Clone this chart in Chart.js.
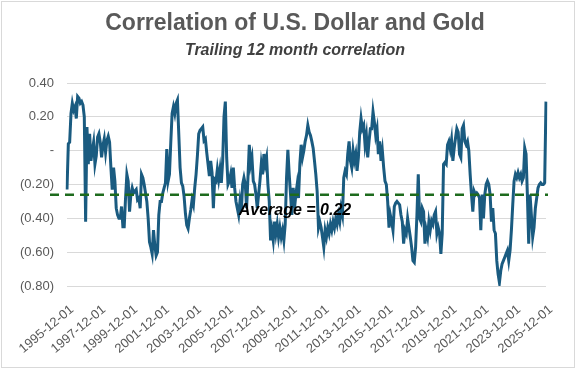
<!DOCTYPE html>
<html>
<head>
<meta charset="utf-8">
<script src="https://cdn.jsdelivr.net/npm/chart.js@4.4.1/dist/chart.umd.min.js"></script>
<style>
  html, body { margin: 0; padding: 0; background: #fff; }
  #wrap { width: 576px; height: 369px; }
</style>
</head>
<body>
<div id="wrap"><canvas id="corrChart" width="576" height="369"></canvas></div>
<script>
const TITLE = 'Correlation of U.S. Dollar and Gold';
const SUBTITLE = 'Trailing 12 month correlation';
const START_YEAR = 1995;
const START_MONTH = 12;
const LABEL_EVERY = 24;

// trailing 12m correlation, one value per month
// 1995-12 .. 2005-10
const corrEarly = [
  -0.23, 0.04, 0.05, 0.22, 0.28, 0.24, 0.26, 0.19, 0.32, 0.31,
  0.28, 0.29, 0.27, 0.20, -0.42, 0.14, -0.08, 0.10, -0.06, 0.00,
  0.05, -0.08, -0.03, 0.08, 0.10, 0.05, -0.04, 0.03, 0.07, -0.01,
  0.06, 0.085, 0.05, -0.10, -0.23, -0.10, -0.18, -0.34, -0.38, -0.40,
  -0.40, -0.33, -0.45, -0.45, -0.28, -0.14, -0.18, -0.36, -0.26, -0.22,
  -0.25, -0.24, -0.23, -0.29, -0.28, -0.34, -0.14, -0.16, -0.20, -0.25,
  -0.30, -0.40, -0.54, -0.57, -0.61, -0.47, -0.56, -0.62, -0.60, -0.38,
  -0.30, -0.30, -0.25, -0.22, -0.19, 0.01, -0.18, -0.14, 0.05, 0.22,
  0.26, 0.22, 0.28, 0.30, 0.10, -0.10, -0.19, -0.21, -0.27, -0.37,
  -0.44, -0.46, -0.40, -0.35, -0.29, -0.32, -0.22, -0.14, -0.03, 0.10,
  0.12, 0.13, 0.14, 0.06, 0.07, -0.01, -0.08, -0.15, -0.06, -0.13,
  -0.34, -0.17, -0.18, -0.11, -0.17, -0.11, -0.19, -0.06, 0.20
];
// 2005-11 .. 2015-09
const corrMiddle = [
  0.29,
  -0.04, -0.20, -0.18, -0.14, -0.22, -0.10, -0.22, -0.30, -0.34, -0.38,
  -0.30, -0.36, -0.20, -0.16, -0.20, -0.34, -0.16, 0.035, -0.08, -0.04,
  -0.18, -0.20, -0.26, -0.34, -0.26, -0.18, -0.08, -0.14, -0.02, -0.08,
  -0.04, -0.20, -0.30, -0.53, -0.47, -0.53, -0.42, -0.49, -0.435, -0.51,
  -0.455, -0.51, -0.47, -0.53, -0.435, -0.16, 0.005, -0.14, -0.26, -0.38,
  -0.22, -0.34, -0.26, -0.20, -0.28, -0.08, 0.035, -0.04, 0.00, 0.055,
  0.09, 0.15, 0.11, 0.09, 0.055, 0.015, -0.06, -0.14, -0.24, -0.455,
  -0.42, -0.455, -0.51, -0.57, -0.47, -0.51, -0.455, -0.49, -0.435, -0.47,
  -0.42, -0.455, -0.40, -0.435, -0.38, -0.42, -0.34, -0.38, -0.16, -0.12,
  -0.14, -0.02, 0.055, -0.06, -0.10, 0.00, -0.06, -0.02, -0.12, -0.04,
  0.11, 0.19, 0.13, 0.15, 0.035, 0.09, -0.04, 0.055, 0.13, 0.13,
  0.23, 0.17, 0.09, 0.13, -0.02, 0.055, -0.06, 0.00
];
// 2015-10 .. 2025-12
const corrLate = [
  -0.10, -0.18,
  -0.20, -0.30, -0.455, -0.38, -0.42, -0.47, -0.33, -0.31, -0.30, -0.31,
  -0.32, -0.38, -0.42, -0.55, -0.47, -0.49, -0.40, -0.455, -0.51, -0.57,
  -0.65, -0.66, -0.57, -0.38, -0.14, -0.40, -0.42, -0.34, -0.36, -0.55,
  -0.47, -0.51, -0.42, -0.47, -0.415, -0.435, -0.38, -0.36, -0.49, -0.455,
  -0.49, -0.61, -0.49, -0.08, -0.07, -0.08, 0.035, 0.055, 0.01, 0.065,
  -0.06, 0.015, 0.075, 0.13, 0.11, -0.02, -0.04, 0.13, 0.15, 0.055,
  0.035, 0.055, 0.00, -0.14, -0.26, -0.36, -0.24, -0.26, -0.25, -0.26,
  -0.28, -0.47, -0.26, -0.40, -0.26, -0.20, -0.18, -0.20, -0.26, -0.42,
  -0.34, -0.47, -0.49, -0.65, -0.73, -0.78, -0.71, -0.67, -0.65, -0.63,
  -0.61, -0.59, -0.65, -0.59, -0.47, -0.32, -0.18, -0.14, -0.16, -0.13,
  -0.16, -0.14, -0.18, -0.16, 0.015, -0.02, -0.26, -0.55, -0.26, -0.38,
  -0.51, -0.455, -0.34, -0.28, -0.22, -0.20, -0.19, -0.20, -0.20, -0.19,
  0.29
];

const AVERAGE = -0.26;
const AVERAGE_LABEL = 'Average = 0.22';
const Y_MIN = -0.8, Y_MAX = 0.4, Y_STEP = 0.2;

const corr = corrEarly.concat(corrMiddle, corrLate);

// month labels 1995-12-01, 1996-01-01, ...
const months = [];
for (let i = 0; i < corr.length; i++) {
  const t = START_MONTH - 1 + i;
  const yr = START_YEAR + Math.floor(t / 12);
  const mo = (t % 12) + 1;
  months.push(yr + '-' + String(mo).padStart(2, '0') + '-01');
}

function fmtTick(v) {
  if (Math.abs(v) < 1e-9) return '-';
  const s = Math.abs(v).toFixed(2);
  return v < 0 ? '(' + s + ')' : s;
}

const decor = {
  id: 'decor',
  beforeDraw(chart) {
    const c = chart.ctx;
    c.save();
    c.strokeStyle = '#d9d9d9';
    c.lineWidth = 1;
    c.strokeRect(1.5, 1.5, chart.width - 3, chart.height - 3);
    c.restore();
  },
  afterDatasetsDraw(chart) {
    const c = chart.ctx;
    const area = chart.chartArea;
    const y = chart.scales.y.getPixelForValue(AVERAGE);
    c.save();
    c.strokeStyle = '#1e6b1e';
    c.lineWidth = 2.5;
    c.setLineDash([9, 6]);
    c.beginPath();
    c.moveTo(area.left - 17, y);
    c.lineTo(area.right + 2, y);
    c.stroke();
    c.setLineDash([]);
    c.fillStyle = '#000';
    c.font = 'italic bold 16px "Liberation Sans", Arial, sans-serif';
    c.textAlign = 'center';
    c.textBaseline = 'middle';
    c.fillText(AVERAGE_LABEL, 295, chart.scales.y.getPixelForValue(-0.355));
    c.restore();
  },
  afterDraw(chart) {
    const c = chart.ctx;
    c.save();
    c.textAlign = 'center';
    c.textBaseline = 'alphabetic';
    c.fillStyle = '#595959';
    c.font = 'bold 23px "Liberation Sans", Arial, sans-serif';
    c.fillText(TITLE, 295, 30);
    c.fillStyle = '#404040';
    c.font = 'italic bold 16px "Liberation Sans", Arial, sans-serif';
    c.fillText(SUBTITLE, 295, 55);
    c.restore();
  }
};

new Chart(document.getElementById('corrChart'), {
  type: 'line',
  data: {
    labels: months,
    datasets: [{
      label: 'Correlation',
      data: corr,
      borderColor: '#1a5b80',
      borderWidth: 3,
      pointRadius: 0,
      tension: 0,
      fill: false
    }]
  },
  options: {
    responsive: false,
    animation: false,
    layout: { padding: { top: 83, left: 20, right: 30, bottom: 13 } },
    plugins: {
      legend: { display: false },
      tooltip: { enabled: false }
    },
    scales: {
      x: {
        offset: false,
        grid: { display: false, drawTicks: false },
        border: { display: false },
        afterBuildTicks: (s) => { s.ticks = s.ticks.filter(t => t.value % LABEL_EVERY === 0); },
        afterFit: (s) => { s.height = 70; s.paddingLeft = 0; s.paddingRight = 0; },
        ticks: {
          autoSkip: false,
          maxRotation: 40,
          minRotation: 40,
          padding: 16,
          labelOffset: 5,
          color: '#595959',
          font: { family: '"Liberation Sans", Arial, sans-serif', size: 13 },
          callback: (v) => months[v]
        }
      },
      y: {
        min: Y_MIN,
        max: Y_MAX,
        grid: { color: '#d9d9d9', drawTicks: false },
        border: { display: false },
        afterFit: (s) => { s.width = 47; },
        ticks: {
          stepSize: Y_STEP,
          padding: 13,
          color: '#595959',
          font: { family: '"Liberation Sans", Arial, sans-serif', size: 13 },
          callback: fmtTick
        }
      }
    }
  },
  plugins: [decor]
});
</script>
</body>
</html>
